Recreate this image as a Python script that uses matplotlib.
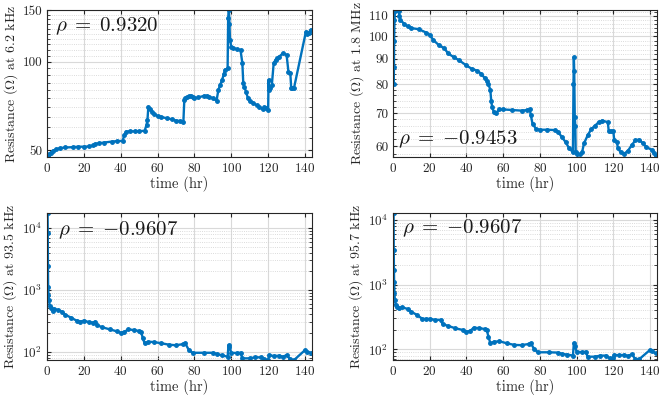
import numpy as np
import matplotlib
matplotlib.use("Agg")
import matplotlib.pyplot as plt
from matplotlib.ticker import FixedLocator, NullFormatter

plt.rcParams['font.family'] = 'cmr10'
plt.rcParams['mathtext.fontset'] = 'cm'
plt.rcParams['axes.unicode_minus'] = False
plt.rcParams['axes.formatter.use_mathtext'] = True

# 6.2 kHz (top left)
t_a = [0.3, 1, 2, 3, 5, 7, 10, 14, 17, 20, 23, 25, 26, 28, 31, 35, 38, 41, 42, 43, 45, 48, 50, 53,
       54, 54.5, 55, 56, 57, 58, 60, 62, 65, 68, 70, 72, 74, 74.5, 75, 76, 77, 78, 79, 80, 82, 85,
       87, 88, 90, 92, 93, 94, 95, 96, 96.5, 98, 98.3, 98.7, 99, 99.3, 100, 101, 103, 105, 106,
       106.5, 107, 108, 109, 110, 112, 114, 115, 117, 118, 119, 120, 120.2, 120.5, 121, 122, 123,
       124, 125, 126, 128, 130, 131, 132, 132.5, 133, 134, 140.5, 141, 142, 143]
r_a = [47.5, 48.3, 49.0, 49.6, 50.3, 50.7, 51.0, 51.1, 51.3, 51.3, 51.4, 51.8, 52.4, 52.7, 53.0,
       53.4, 53.6, 53.7, 56.3, 57.8, 57.9, 57.9, 57.9, 58.2, 60.9, 63.3, 70.3, 69.0, 67.6, 66.5,
       65.3, 64.8, 64.2, 63.6, 63.0, 62.8, 62.5, 74.1, 75.0, 75.7, 76.2, 76.7, 76.0, 75.1, 75.6,
       76.5, 76.6, 76.0, 75.0, 73.8, 80.2, 83.5, 86.8, 91.0, 93.9, 95.1, 141.0, 150.5, 135.0,
       119.0, 112.8, 111.5, 110.5, 109.9, 99.0, 84.5, 82.3, 79.2, 75.1, 73.5, 72.2, 71.0, 70.3,
       68.9, 70.0, 69.5, 68.5, 86.8, 80.2, 81.3, 83.4, 99.0, 101.6, 103.0, 104.3, 107.0, 105.7,
       92.7, 92.0, 81.7, 81.3, 81.3, 127.0, 125.0, 125.5, 128.6]

# 1.8 MHz (top right)
t_b = [0.4, 0.5, 0.6, 0.8, 1.1, 2, 3, 3.5, 4, 6, 8, 10, 14, 18, 20, 22, 25, 28, 30, 33, 36, 40, 43,
       46, 48, 50, 51, 52, 53, 53.5, 54, 55, 56, 58, 60, 65, 70, 73, 74.5, 75, 76, 78, 80, 84, 88,
       90, 92, 94, 96, 98, 98.3, 98.5, 98.7, 99, 99.3, 99.5, 100, 102, 103, 104, 106, 108, 110,
       112, 114, 117, 117.5, 119, 120, 120.5, 122, 122.5, 124, 126, 128, 130, 132, 134, 136, 138,
       141, 142, 143]
r_b = [80.0, 86.7, 97.9, 108.0, 112.3, 113.0, 112.5, 110.0, 108.0, 105.9, 104.6, 103.8, 103.3,
       101.7, 100.6, 98.2, 95.9, 94.5, 92.3, 90.8, 89.4, 87.3, 85.9, 85.2, 84.0, 82.3, 81.3, 80.0,
       78.0, 74.0, 72.0, 70.2, 70.0, 71.2, 71.2, 71.0, 70.8, 71.0, 71.2, 69.5, 66.6, 65.0, 64.8,
       64.8, 64.7, 64.1, 62.6, 61.2, 59.4, 58.4, 80.0, 90.8, 85.2, 68.8, 66.0, 58.4, 58.0, 57.8,
       58.4, 60.8, 63.1, 65.0, 66.0, 67.1, 67.6, 67.1, 64.4, 64.3, 64.3, 61.7, 61.2, 59.4, 58.4,
       58.0, 58.8, 60.3, 61.7, 61.9, 60.9, 59.8, 59.0, 58.2, 57.5]

# 93.5 kHz (bottom left)
t_c = [0.3, 0.4, 0.5, 0.6, 0.8, 1, 1.5, 2, 3, 4, 6, 8, 10, 13, 16, 18, 20, 23, 25, 26, 27, 30, 34,
       38, 40, 42, 44, 47, 50, 51, 52, 53, 55, 58, 62, 66, 70, 74, 75, 77, 79, 85, 90, 92, 95, 98,
       98.5, 99, 100, 103, 105, 106, 110, 113, 116, 118, 120, 120.5, 123, 126, 128, 130, 132, 134,
       140, 141, 143]
r_c = [17500, 8300, 2400, 1130, 830, 690, 550, 505, 456, 485, 473, 445, 394, 356, 318, 306, 318,
       299, 296, 306, 270, 248, 230, 213, 203, 208, 230, 224, 216, 212, 165, 136, 145, 143, 137,
       130, 127, 133, 136, 106, 96, 96, 96, 92, 87, 83, 128, 120, 96, 95, 96, 78, 78, 81, 81, 75,
       73, 88, 85, 86, 83, 88, 75, 73, 106, 100, 96]

# 95.7 kHz (bottom right)
t_d = [0.3, 0.4, 0.5, 0.6, 0.8, 1, 1.5, 2, 3, 5, 8, 10, 13, 16, 18, 20, 23, 26, 27, 30, 34, 38, 40,
       42, 44, 47, 50, 51, 52, 53, 55, 58, 62, 66, 70, 74, 75, 77, 79, 85, 90, 92, 95, 98, 98.5,
       99, 100, 103, 105, 106, 110, 113, 116, 118, 120, 120.5, 123, 126, 128, 130, 132, 134, 140,
       141, 143]
r_d = [12600, 3450, 1680, 1110, 735, 580, 485, 455, 430, 445, 420, 380, 340, 295, 295, 295, 285,
       285, 245, 230, 211, 199, 188, 192, 216, 212, 206, 200, 157, 124, 131, 133, 124, 117, 116,
       121, 124, 100, 90, 90, 89, 85, 83, 80, 124, 114, 92, 90, 92, 77, 77, 80, 80, 73, 73, 82, 81,
       82, 79, 84, 71, 70, 98, 94, 87]

panels = [
    (t_a, r_a, 'Resistance ($\\Omega$) at 6.2 kHz', '$\\rho\\;=\\;0.9320$', (47.3, 150.5)),
    (t_b, r_b, 'Resistance ($\\Omega$) at 1.8 MHz', '$\\rho\\;=\\;{-}0.9453$', (57.1, 112.9)),
    (t_c, r_c, 'Resistance ($\\Omega$) at 93.5 kHz', '$\\rho\\;=\\;{-}0.9607$', (73.3, 17500)),
    (t_d, r_d, 'Resistance ($\\Omega$) at 95.7 kHz', '$\\rho\\;=\\;{-}0.9607$', (68.4, 12700)),
]
rect = [[0.0707, 0.6065, 0.3985, 0.3684], [0.591, 0.6065, 0.397, 0.3684],
        [0.0707, 0.0977, 0.3985, 0.3684], [0.591, 0.0977, 0.397, 0.3684]]
rho_pos = [(0.03, 0.89), (0.02, 0.12), (0.04, 0.885), (0.035, 0.895)]

fig = plt.figure(figsize=(6.65, 3.99), dpi=100)
for i, (t, r, ylab, rho, ylim) in enumerate(panels):
    ax = fig.add_axes(rect[i])
    ax.plot(t, r, color='#0072BD', lw=1.7, marker='.', ms=5)
    ax.set_yscale('log')
    ax.set_xlim(0, 143.8)
    ax.set_ylim(*ylim)
    ax.set_xticks(np.arange(0, 141, 20))
    if i == 0:
        ax.set_yticks([50, 100, 150], labels=['50', '100', '150'])
        ax.yaxis.set_minor_locator(FixedLocator([v for v in range(50, 151, 5) if v not in (50, 100, 150)]))
    elif i == 1:
        ax.set_yticks([60, 70, 80, 90, 100, 110], labels=['60', '70', '80', '90', '100', '110'])
        ax.yaxis.set_minor_locator(FixedLocator([v for v in range(56, 114, 2) if v % 10 != 0]))
    else:
        ax.set_yticks([1e2, 1e3, 1e4], labels=['$10^2$', '$10^3$', '$10^4$'])
        ax.yaxis.set_minor_locator(FixedLocator([m * 10 ** e for e in (1, 2, 3, 4) for m in range(2, 10)]))
    ax.yaxis.set_minor_formatter(NullFormatter())
    ax.grid(True, which='major', color='#d9d9d9', lw=0.8)
    ax.grid(True, which='minor', axis='y', color='#cfcfcf', lw=0.6, ls=':')
    ax.set_axisbelow(True)
    ax.tick_params(which='both', direction='in', top=True, right=True, labelsize=9.5,
                   colors='#262626', length=3)
    ax.tick_params(which='minor', length=2)
    for s in ax.spines.values():
        s.set_color('#262626')
        s.set_linewidth(0.8)
    ax.set_xlabel('time (hr)', fontsize=10.5, color='#262626', labelpad=1)
    ax.set_ylabel(ylab, fontsize=10, color='#262626', labelpad=2)
    ax.text(rho_pos[i][0], rho_pos[i][1], rho, transform=ax.transAxes, fontsize=15,
            va='center', ha='left', color='#1a1a1a')

fig.savefig('out.png', dpi=100)
